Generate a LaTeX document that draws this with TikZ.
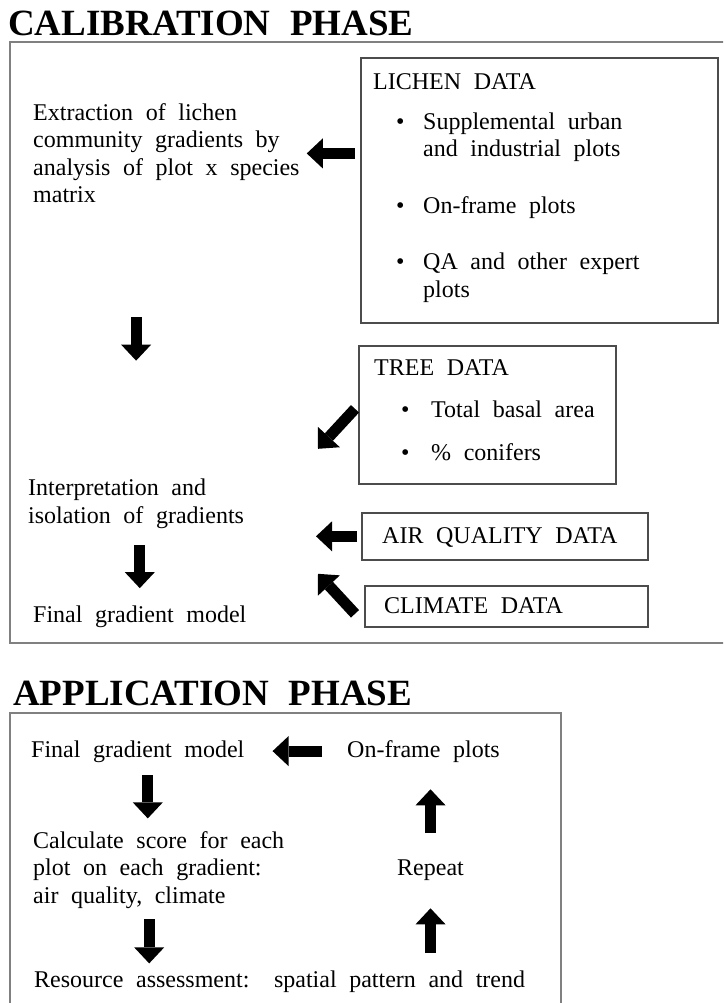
\documentclass[tikz,border=0pt]{standalone}
\usepackage{fontspec}
\setmainfont{Liberation Serif}[WordSpace=2.1]
\usetikzlibrary{arrows.meta,positioning}

\tikzset{
  phase/.style={anchor=base west, inner sep=0pt, font=\fontsize{37}{40}\bfseries\selectfont},
  txt/.style={anchor=base west, inner sep=0pt, align=left, font=\fontsize{24}{27.5}\selectfont},
  calframe/.style={draw=black!50, line width=1.8pt},
  databox/.style={draw=black!70, line width=1.6pt, anchor=north west, inner sep=0pt},
  blockarrow/.style={line width=11pt, -{Triangle[length=16pt,width=30pt,line width=0pt]}},
}
\newcommand{\bul}{\makebox[27pt][l]{\textbullet}}
\newcommand{\tbul}{\makebox[30pt][l]{\textbullet}}

\begin{document}
\begin{tikzpicture}[x=1pt,y=-1pt]
  \clip (0,0) rectangle (723,1003);
  % calibration phase (multi-line texts sit on their last line)
  \node[phase] (calhd) at (8,36) {CALIBRATION PHASE};
  \draw[calframe] (10,42) rectangle (740,643);
  \node[txt] (extract) at (33,203) {Extraction of lichen\\community gradients by\\analysis of plot x species\\matrix};
  \node[txt] (interp) at (28,523) {Interpretation and\\isolation of gradients};
  \node[txt] (final) at (33,622) {Final gradient model};

  \node[databox, minimum width=357pt, minimum height=265pt] (lichen) at (360,57) {};
  \node[txt] (lichenhd) at (373,90) {LICHEN DATA};
  \node[txt] (lichena) at (396,157) {\bul Supplemental urban\\\hspace*{27pt}and industrial plots};
  \node[txt] (lichenb) at (396,213) {\bul On-frame plots};
  \node[txt] (lichenc) at (396,297) {\bul QA and other expert\\\hspace*{27pt}plots};

  \node[databox, minimum width=257pt, minimum height=138pt] (tree) at (358,345) {};
  \node[txt] (treehd) at (374,375) {TREE DATA};
  \node[txt] (treea) at (401,417) {\tbul Total basal area};
  \node[txt] (treeb) at (401,460) {\tbul \% conifers};

  \node[databox, minimum width=286pt, minimum height=47pt] (air) at (361,512) {};
  \node[txt] (airtxt) at (382,543) {AIR QUALITY DATA};
  \node[databox, minimum width=283pt, minimum height=41pt] (clim) at (364,585) {};
  \node[txt] (climtxt) at (384,613) {CLIMATE DATA};

  \draw[blockarrow, shorten <=5pt] (lichen.west |- extract.east) -- ([xshift=7pt]extract.east);
  \draw[blockarrow, shorten <=114pt, shorten >=118pt] (extract.south -| interp.north) -- (interp.north);
  \draw[blockarrow] ([xshift=-3pt,yshift=6pt]tree.west) -- +(-37,40);
  \draw[blockarrow, shorten <=4pt] (air.west) -- +(-45,0);
  \draw[blockarrow] ([xshift=-9pt,yshift=-7.5pt]clim.west) -- +(-37,-40);
  \draw[blockarrow, shorten <=17pt, shorten >=17pt] (interp.south -| final.north) -- (final.north);

  % application phase
  \node[phase] (apphd) at (13,705) {APPLICATION PHASE};
  \draw[calframe] (10,713) rectangle (561,1020);
  \node[txt] (appfinal) at (31,757) {Final gradient model};
  \node[txt] (onframe) at (347,757) {On-frame plots};
  \node[txt] (calc) at (33,903) {Calculate score for each\\plot on each gradient:\\air quality, climate};
  \node[txt] (repeat) at (397,875) {Repeat};
  \node[txt] (resource) at (34,987) {Resource assessment:\hspace{10pt} spatial pattern and trend};

  \draw[blockarrow, shorten <=25pt, shorten >=28pt] (onframe.west) -- (onframe.west -| appfinal.east);
  \draw[blockarrow] ([xshift=10pt,yshift=-13pt]appfinal.south) -- ++(0,43);
  \draw[blockarrow] ([xshift=-9.5pt,yshift=-11pt]calc.south) -- ++(0,44);
  \draw[blockarrow, shorten <=26pt, shorten >=27pt] (repeat.north) -- (repeat.north |- onframe.south);
  \draw[blockarrow, shorten <=17pt, shorten >=28pt] (resource.north -| repeat.south) -- (repeat.south);
\end{tikzpicture}
\end{document}
